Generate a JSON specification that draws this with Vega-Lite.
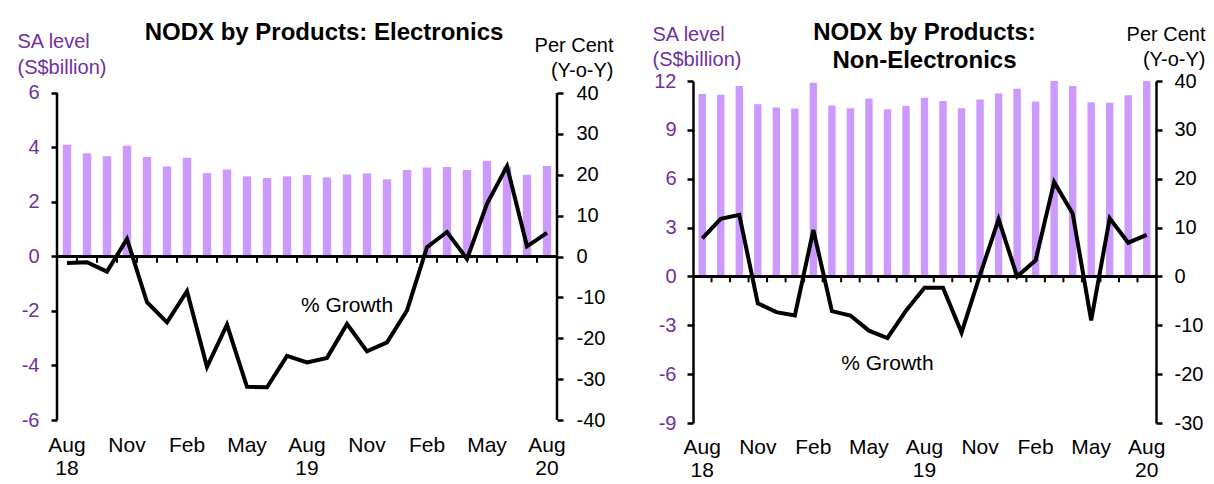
{
  "$schema": "https://vega.github.io/schema/vega-lite/v6.json",
  "background": "white",
  "padding": {"left": 17, "top": 21, "right": 5, "bottom": 0},
  "spacing": 39,
  "config": {
    "font": "Liberation Sans",
    "view": {"stroke": null},
    "title": {"font": "Liberation Sans", "fontSize": 24, "fontWeight": "bold", "color": "black", "anchor": "middle", "frame": "group", "lineHeight": 28},
    "axis": {
      "grid": false,
      "domainColor": "black",
      "domainWidth": 2.5,
      "tickColor": "black",
      "tickWidth": 2.5,
      "tickSize": 6,
      "labelFont": "Liberation Sans",
      "labelFontSize": 20,
      "labelColor": "black",
      "titleFont": "Liberation Sans",
      "titleFontWeight": "normal",
      "titleFontSize": 20
    },
    "axisX": {
      "labelExpr": "substring(datum.value,0,3) == 'Aug' ? split(datum.value, ' ') : substring(datum.value,0,3)",
      "domain": false, "ticks": false, "labelAngle": 0,
      "labelFontSize": 21, "labelLineHeight": 23
    }
  },
  "datasets": {
    "elec": [
      {"month": "Aug 18", "level": 4.10, "growth": -1.6},
      {"month": "Sep 18", "level": 3.79, "growth": -1.4},
      {"month": "Oct 18", "level": 3.68, "growth": -3.7},
      {"month": "Nov 18", "level": 4.06, "growth": 4.3},
      {"month": "Dec 18", "level": 3.65, "growth": -11.2},
      {"month": "Jan 19", "level": 3.30, "growth": -16.1},
      {"month": "Feb 19", "level": 3.62, "growth": -8.5},
      {"month": "Mar 19", "level": 3.06, "growth": -27.0},
      {"month": "Apr 19", "level": 3.19, "growth": -16.7},
      {"month": "May 19", "level": 2.94, "growth": -31.9},
      {"month": "Jun 19", "level": 2.88, "growth": -32.0},
      {"month": "Jul 19", "level": 2.94, "growth": -24.3},
      {"month": "Aug 19", "level": 2.99, "growth": -25.9},
      {"month": "Sep 19", "level": 2.90, "growth": -24.8},
      {"month": "Oct 19", "level": 3.01, "growth": -16.5},
      {"month": "Nov 19", "level": 3.05, "growth": -23.2},
      {"month": "Dec 19", "level": 2.83, "growth": -21.0},
      {"month": "Jan 20", "level": 3.17, "growth": -13.2},
      {"month": "Feb 20", "level": 3.27, "growth": 2.3},
      {"month": "Mar 20", "level": 3.28, "growth": 6.0},
      {"month": "Apr 20", "level": 3.17, "growth": -0.6},
      {"month": "May 20", "level": 3.51, "growth": 12.9},
      {"month": "Jun 20", "level": 3.30, "growth": 22.1},
      {"month": "Jul 20", "level": 3.00, "growth": 2.5},
      {"month": "Aug 20", "level": 3.32, "growth": 5.8}
    ],
    "nonelec": [
      {"month": "Aug 18", "level": 11.20, "growth": 7.8},
      {"month": "Sep 18", "level": 11.15, "growth": 11.8},
      {"month": "Oct 18", "level": 11.70, "growth": 12.6},
      {"month": "Nov 18", "level": 10.58, "growth": -5.5},
      {"month": "Dec 18", "level": 10.37, "growth": -7.3},
      {"month": "Jan 19", "level": 10.31, "growth": -8.0},
      {"month": "Feb 19", "level": 11.90, "growth": 9.5},
      {"month": "Mar 19", "level": 10.50, "growth": -7.1},
      {"month": "Apr 19", "level": 10.33, "growth": -8.0},
      {"month": "May 19", "level": 10.93, "growth": -11.1},
      {"month": "Jun 19", "level": 10.27, "growth": -12.6},
      {"month": "Jul 19", "level": 10.46, "growth": -7.0},
      {"month": "Aug 19", "level": 10.97, "growth": -2.3},
      {"month": "Sep 19", "level": 10.77, "growth": -2.3},
      {"month": "Oct 19", "level": 10.33, "growth": -11.5},
      {"month": "Nov 19", "level": 10.87, "growth": 0.3},
      {"month": "Dec 19", "level": 11.24, "growth": 11.7},
      {"month": "Jan 20", "level": 11.52, "growth": 0.0},
      {"month": "Feb 20", "level": 10.74, "growth": 3.3},
      {"month": "Mar 20", "level": 12.00, "growth": 19.3},
      {"month": "Apr 20", "level": 11.70, "growth": 12.9},
      {"month": "May 20", "level": 10.70, "growth": -9.0},
      {"month": "Jun 20", "level": 10.66, "growth": 11.9},
      {"month": "Jul 20", "level": 11.13, "growth": 6.9},
      {"month": "Aug 20", "level": 12.00, "growth": 8.5}
    ]
  },
  "hconcat": [
    {
      "width": 500,
      "height": 339,
      "title": {"text": "NODX by Products: Electronics", "offset": -14, "dx": 17},
      "data": {"name": "elec"},
      "layer": [
        {
          "mark": {"type": "bar", "color": "#CC99FF", "width": {"band": 0.42}},
          "encoding": {
            "x": {
              "field": "month", "type": "ordinal", "sort": null,
              "scale": {"paddingInner": 0, "paddingOuter": 0},
              "axis": {"orient": "bottom", "labelPadding": 14, "title": null, "values": ["Aug 18", "Nov 18", "Feb 19", "May 19", "Aug 19", "Nov 19", "Feb 20", "May 20", "Aug 20"]}
            },
            "y": {
              "field": "level", "type": "quantitative",
              "scale": {"domain": [-6, 6.44], "nice": false, "zero": false},
              "axis": {
                "orient": "left", "values": [-6, -4, -2, 0, 2, 4, 6], "domain": false,
                "labelExpr": "replace(datum.label, '\u2212', '-')",
                "labelColor": "#7030A0", "labelPadding": 12,
                "title": ["SA level", "(S$billion)"], "titleColor": "#7030A0",
                "titleAngle": 0, "titleAlign": "left", "titleBaseline": "alphabetic",
                "titleX": -40, "titleY": -34, "titleLineHeight": 26
              }
            }
          }
        },
        {
          "layer": [
            {
              "mark": {"type": "rule", "color": "black", "strokeWidth": 2.5},
              "encoding": {"y": {"datum": 0, "type": "quantitative"}}
            },
            {
              "transform": [{"filter": "datum.month == 'Aug 18'"}],
              "mark": {"type": "rule", "color": "black", "strokeWidth": 2.5},
              "encoding": {
                "x": {"field": "month", "type": "ordinal", "sort": null, "bandPosition": 0, "axis": {"orient": "bottom", "labelPadding": 14, "title": null, "values": ["Aug 18", "Nov 18", "Feb 19", "May 19", "Aug 19", "Nov 19", "Feb 20", "May 20", "Aug 20"]}},
                "y": {"datum": -40, "type": "quantitative"},
                "y2": {"datum": 40}
              }
            },
            {
              "transform": [{"filter": "datum.month == 'Aug 20'"}],
              "mark": {"type": "rule", "color": "black", "strokeWidth": 2.5},
              "encoding": {
                "x": {"field": "month", "type": "ordinal", "sort": null, "bandPosition": 1, "axis": {"orient": "bottom", "labelPadding": 14, "title": null, "values": ["Aug 18", "Nov 18", "Feb 19", "May 19", "Aug 19", "Nov 19", "Feb 20", "May 20", "Aug 20"]}},
                "y": {"datum": -40, "type": "quantitative"},
                "y2": {"datum": 40}
              }
            },
            {
              "transform": [{"filter": "datum.month != 'Aug 18'"}],
              "mark": {"type": "rule", "color": "black", "strokeWidth": 2},
              "encoding": {
                "x": {"field": "month", "type": "ordinal", "sort": null, "bandPosition": 0, "axis": {"orient": "bottom", "labelPadding": 14, "title": null, "values": ["Aug 18", "Nov 18", "Feb 19", "May 19", "Aug 19", "Nov 19", "Feb 20", "May 20", "Aug 20"]}},
                "y": {"datum": 0, "type": "quantitative"},
                "y2": {"datum": -1.5}
              }
            },
            {
              "mark": {"type": "line", "color": "black", "strokeWidth": 4, "strokeJoin": "miter"},
              "encoding": {
                "x": {"field": "month", "type": "ordinal", "sort": null, "axis": {"orient": "bottom", "labelPadding": 14, "title": null, "values": ["Aug 18", "Nov 18", "Feb 19", "May 19", "Aug 19", "Nov 19", "Feb 20", "May 20", "Aug 20"]}},
                "y": {
                  "field": "growth", "type": "quantitative",
                  "scale": {"domain": [-40, 42.94], "nice": false, "zero": false},
                  "axis": {
                    "orient": "right", "values": [-40, -30, -20, -10, 0, 10, 20, 30, 40], "domain": false,
                    "labelExpr": "replace(datum.label, '\u2212', '-')",
                    "labelPadding": 13,
                    "title": ["Per Cent", "(Y-o-Y)"],
                    "titleAngle": 0, "titleAlign": "right", "titleBaseline": "alphabetic",
                    "titleX": 56, "titleY": -30, "titleLineHeight": 25
                  }
                }
              }
            },
            {
              "transform": [{"filter": "datum.month == 'Oct 19'"}],
              "mark": {"type": "text", "fontSize": 21, "color": "black", "align": "center", "baseline": "middle"},
              "encoding": {
                "x": {"field": "month", "type": "ordinal", "sort": null, "axis": {"orient": "bottom", "labelPadding": 14, "title": null, "values": ["Aug 18", "Nov 18", "Feb 19", "May 19", "Aug 19", "Nov 19", "Feb 20", "May 20", "Aug 20"]}},
                "y": {"datum": -12, "type": "quantitative"},
                "text": {"value": "% Growth"}
              }
            }
          ]
        }
      ],
      "resolve": {"scale": {"y": "independent"}, "axis": {"y": "independent"}}
    },
    {
      "width": 463,
      "height": 342,
      "title": {"text": ["NODX by Products:", "Non-Electronics"], "offset": -49},
      "data": {"name": "nonelec"},
      "layer": [
        {
          "mark": {"type": "bar", "color": "#CC99FF", "width": {"band": 0.4}},
          "encoding": {
            "x": {
              "field": "month", "type": "ordinal", "sort": null,
              "scale": {"paddingInner": 0, "paddingOuter": 0},
              "axis": {"orient": "bottom", "labelPadding": 13, "title": null, "values": ["Aug 18", "Nov 18", "Feb 19", "May 19", "Aug 19", "Nov 19", "Feb 20", "May 20", "Aug 20"]}
            },
            "y": {
              "field": "level", "type": "quantitative",
              "scale": {"domain": [-9, 12], "nice": false, "zero": false},
              "axis": {
                "orient": "left", "values": [-9, -6, -3, 0, 3, 6, 9, 12],
                "labelExpr": "replace(datum.label, '\u2212', '-')",
                "labelColor": "#7030A0", "labelPadding": 11,
                "title": ["SA level", "(S$billion)"], "titleColor": "#7030A0",
                "titleAngle": 0, "titleAlign": "left", "titleBaseline": "alphabetic",
                "titleX": -41, "titleY": -41, "titleLineHeight": 25
              }
            }
          }
        },
        {
          "layer": [
            {
              "mark": {"type": "rule", "color": "black", "strokeWidth": 2.5},
              "encoding": {"y": {"datum": 0, "type": "quantitative"}}
            },
            {
              "transform": [{"filter": "datum.month != 'Aug 18'"}],
              "mark": {"type": "rule", "color": "black", "strokeWidth": 2},
              "encoding": {
                "x": {"field": "month", "type": "ordinal", "sort": null, "bandPosition": 0, "axis": {"orient": "bottom", "labelPadding": 13, "title": null, "values": ["Aug 18", "Nov 18", "Feb 19", "May 19", "Aug 19", "Nov 19", "Feb 20", "May 20", "Aug 20"]}},
                "y": {"datum": 0, "type": "quantitative"},
                "y2": {"datum": -1.2}
              }
            },
            {
              "mark": {"type": "line", "color": "black", "strokeWidth": 4, "strokeJoin": "miter"},
              "encoding": {
                "x": {"field": "month", "type": "ordinal", "sort": null, "axis": {"orient": "bottom", "labelPadding": 13, "title": null, "values": ["Aug 18", "Nov 18", "Feb 19", "May 19", "Aug 19", "Nov 19", "Feb 20", "May 20", "Aug 20"]}},
                "y": {
                  "field": "growth", "type": "quantitative",
                  "scale": {"domain": [-30, 40], "nice": false, "zero": false},
                  "axis": {
                    "orient": "right", "values": [-30, -20, -10, 0, 10, 20, 30, 40],
                    "labelExpr": "replace(datum.label, '\u2212', '-')",
                    "labelPadding": 12,
                    "title": ["Per Cent", "(Y-o-Y)"],
                    "titleAngle": 0, "titleAlign": "right", "titleBaseline": "alphabetic",
                    "titleX": 49, "titleY": -41, "titleLineHeight": 25
                  }
                }
              }
            },
            {
              "transform": [{"filter": "datum.month == 'Jun 19'"}],
              "mark": {"type": "text", "fontSize": 21, "color": "black", "align": "center", "baseline": "middle"},
              "encoding": {
                "x": {"field": "month", "type": "ordinal", "sort": null, "axis": {"orient": "bottom", "labelPadding": 13, "title": null, "values": ["Aug 18", "Nov 18", "Feb 19", "May 19", "Aug 19", "Nov 19", "Feb 20", "May 20", "Aug 20"]}},
                "y": {"datum": -18, "type": "quantitative"},
                "text": {"value": "% Growth"}
              }
            }
          ]
        }
      ],
      "resolve": {"scale": {"y": "independent"}, "axis": {"y": "independent"}}
    }
  ]
}
